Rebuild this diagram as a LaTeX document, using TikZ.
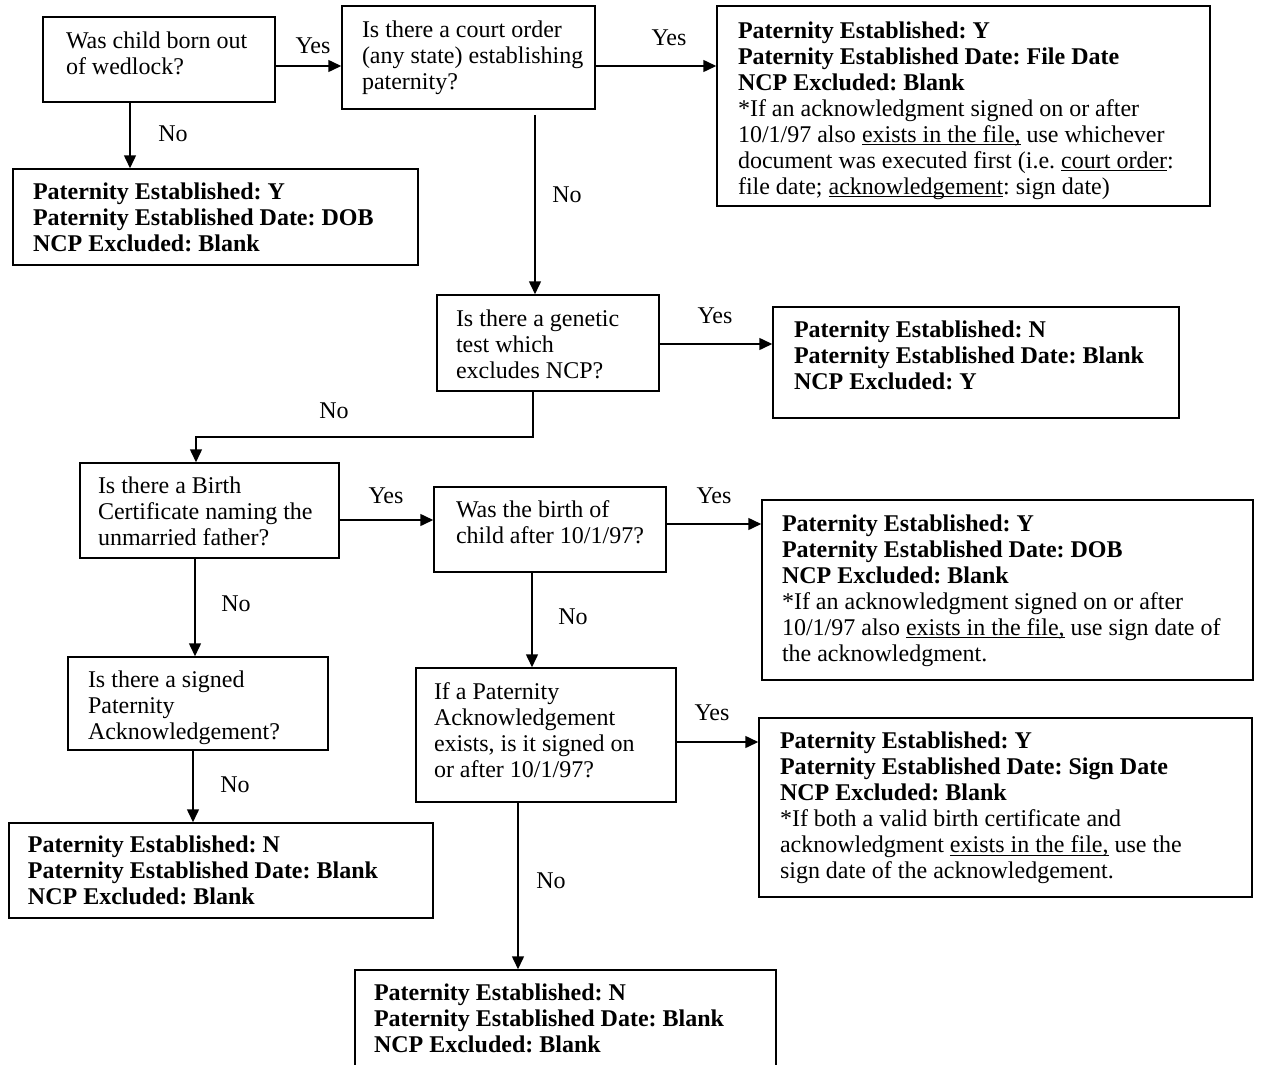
\documentclass[tikz,border=0pt]{standalone}
\usepackage{fontspec}
\setmainfont{Liberation Serif}
\usetikzlibrary{arrows.meta}
\frenchspacing
% width, left pad, raise, lines
\newcommand\bxt[4]{\makebox[#1pt][l]{\hspace*{#2pt}\raisebox{\dimexpr#3pt-2pt\relax}[\height][\depth]{\begin{tabular}{@{}l@{}}#4\end{tabular}}}}
\newsavebox\ulbox
\newcommand\myul[1]{\sbox\ulbox{#1}\rlap{\rule[-3pt]{\wd\ulbox}{1pt}}\usebox\ulbox}
\begin{document}
\begin{tikzpicture}[x=1pt,y=-1pt,
  every node/.style={font=\fontsize{24}{26}\selectfont\frenchspacing},
  box/.style={draw, line width=1.5pt, inner xsep=0pt, inner ysep=0pt},
  arr/.style={line width=1.5pt, -{Triangle[length=13pt,width=12pt]}},
  lbl/.style={inner sep=0pt}]
\fill[white] (0,0) rectangle (1264,1065);
\useasboundingbox (0,0) rectangle (1264,1065);

% questions
\node[box, minimum height=85pt] (q1) at (159,59.5)
  {\bxt{232}{23}{5}{Was child born out\\of wedlock?}};
\node[box, minimum height=103pt] (q2) at (468.5,57.5)
  {\bxt{253}{20}{1}{Is there a court order\\(any state) establishing\\paternity?}};
\node[box, minimum height=96pt] (q3) at (548,343)
  {\bxt{222}{19}{-2}{Is there a genetic\\test which\\excludes NCP?}};
\node[box, minimum height=95pt] (q4) at (209.5,510.5)
  {\bxt{259}{18}{-2}{Is there a Birth\\Certificate naming the\\unmarried father?}};
\node[box, minimum height=85pt] (q5) at (550,529.5)
  {\bxt{232}{22}{6}{Was the birth of\\child after 10/1/97?}};
\node[box, minimum height=93pt] (q6) at (198,703.5)
  {\bxt{260}{20}{-3}{Is there a signed\\Paternity\\Acknowledgement?}};
\node[box, minimum height=134pt] (q7) at (546,735)
  {\bxt{260}{18}{4}{If a Paternity\\Acknowledgement\\exists, is it signed on\\or after 10/1/97?}};

% results
\node[box, minimum height=200pt] (r1) at (963.5,106)
  {\bxt{493}{21}{-3}{\textbf{Paternity Established: Y}\\
   \textbf{Paternity Established Date: File Date}\\
   \textbf{NCP Excluded: Blank}\\
   \relax *If an acknowledgment signed on or after\\
   10/1/97 also \myul{exists in the file,} use whichever\\
   document was executed first (i.e. \myul{court order}:\\
   file date; \myul{acknowledgement}: sign date)}};
\node[box, minimum height=96pt] (r0) at (215.5,217)
  {\bxt{405}{20}{-1}{\textbf{Paternity Established: Y}\\
   \textbf{Paternity Established Date: DOB}\\
   \textbf{NCP Excluded: Blank}}};
\node[box, minimum height=111pt] (r2) at (976,362.5)
  {\bxt{406}{21}{6}{\textbf{Paternity Established: N}\\
   \textbf{Paternity Established Date: Blank}\\
   \textbf{NCP Excluded: Y}}};
\node[box, minimum height=180pt] (r3) at (1007.5,590)
  {\bxt{491}{20}{1}{\textbf{Paternity Established: Y}\\
   \textbf{Paternity Established Date: DOB}\\
   \textbf{NCP Excluded: Blank}\\
   \relax *If an acknowledgment signed on or after\\
   10/1/97 also \myul{exists in the file,} use sign date of\\
   the acknowledgment.}};
\node[box, minimum height=179pt] (r4) at (1005.5,807.5)
  {\bxt{493}{21}{1}{\textbf{Paternity Established: Y}\\
   \textbf{Paternity Established Date: Sign Date}\\
   \textbf{NCP Excluded: Blank}\\
   \relax *If both a valid birth certificate and\\
   acknowledgment \myul{exists in the file,} use the\\
   sign date of the acknowledgement.}};
\node[box, minimum height=95pt] (r5) at (221,870.5)
  {\bxt{424}{19}{-1}{\textbf{Paternity Established: N}\\
   \textbf{Paternity Established Date: Blank}\\
   \textbf{NCP Excluded: Blank}}};
\node[box, minimum height=105pt] (r6) at (565.5,1022.5)
  {\bxt{421}{19}{3}{\textbf{Paternity Established: N}\\
   \textbf{Paternity Established Date: Blank}\\
   \textbf{NCP Excluded: Blank}}};

% connectors
\draw[arr] (q1.east |- 0,66) -- (q2.west |- 0,66);
\draw[arr] (q2.east |- 0,66) -- (r1.west |- 0,66);
\draw[arr] (q1.south -| 130,0) -- (r0.north -| 130,0);
\draw[arr, shorten <=5pt] (q2.south -| 535,0) -- (q3.north -| 535,0);
\draw[arr] (q3.east |- 0,344) -- (r2.west |- 0,344);
\draw[arr] (q3.south -| 533,0) -- (533,437) -| (q4.north -| 196,0);
\draw[arr] (q4.east |- 0,520) -- (q5.west |- 0,520);
\draw[arr] (q5.east |- 0,524) -- (r3.west |- 0,524);
\draw[arr] (q4.south -| 195,0) -- (q6.north -| 195,0);
\draw[arr] (q5.south -| 532,0) -- (q7.north -| 532,0);
\draw[arr] (q6.south -| 193,0) -- (r5.north -| 193,0);
\draw[arr] (q7.east |- 0,742) -- (r4.west |- 0,742);
\draw[arr] (q7.south -| 518,0) -- (r6.north -| 518,0);

% labels
\node[lbl] (y1) at (313,46) {Yes};
\node[lbl] (y2) at (669,38) {Yes};
\node[lbl] (n1) at (173,134) {No};
\node[lbl] (n2) at (567,195) {No};
\node[lbl] (y3) at (715,316) {Yes};
\node[lbl] (n3) at (334,411) {No};
\node[lbl] (y4) at (386,496) {Yes};
\node[lbl] (y5) at (714,496) {Yes};
\node[lbl] (n4) at (236,604) {No};
\node[lbl] (n5) at (573,617) {No};
\node[lbl] (n6) at (235,785) {No};
\node[lbl] (y6) at (712,713) {Yes};
\node[lbl] (n7) at (551,881) {No};
\end{tikzpicture}
\end{document}
